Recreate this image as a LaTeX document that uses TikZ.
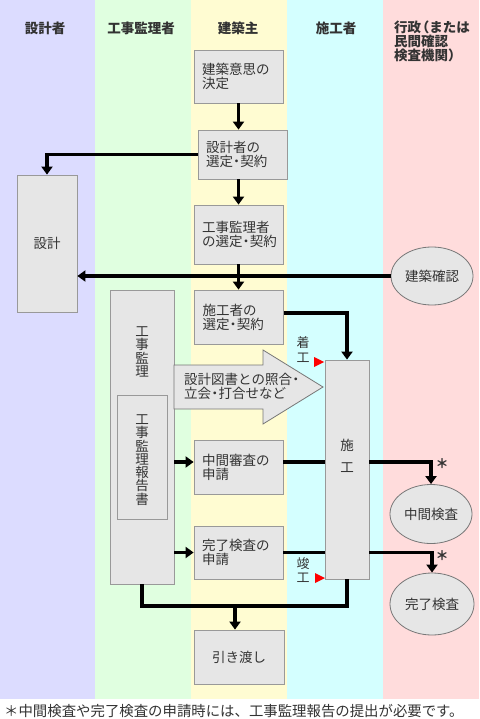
\documentclass[tikz,border=0pt]{standalone}
\usepackage{fontspec}
\setmainfont{Noto Sans CJK JP}
\newfontfamily\jpfull{Noto Sans CJK JP}
\usetikzlibrary{arrows.meta,shapes.geometric}
\definecolor{colA}{HTML}{DCDCFF}
\definecolor{colB}{HTML}{E0FFE0}
\definecolor{colC}{HTML}{FFFCD2}
\definecolor{colD}{HTML}{D4FFFF}
\definecolor{colE}{HTML}{FFDCDC}
\definecolor{bfill}{HTML}{E6E6E6}
\definecolor{bline}{HTML}{999999}
\definecolor{eline}{HTML}{777777}
\definecolor{txt}{HTML}{333333}
\newcommand\nkg{\makebox[0.55em]{・}}
\newcommand\lpar{\makebox[0.6em][r]{（}}
\newcommand\fsm{\fontsize{13.5}{14}\selectfont}
\newcommand\fsv{\fontsize{13.5}{13.3}\selectfont}
\tikzset{
  hdr/.style={font=\fsm\bfseries, text=txt},
  boxbase/.style={draw=bline, fill=bfill, line width=0.8pt, inner ysep=0pt, font=\fsm, text=txt},
  lbox/.style={boxbase, inner xsep=8pt, text width=73pt, align=left, minimum height=#1},
  ell/.style={ellipse, draw=eline, fill=bfill, line width=0.8pt, inner sep=0pt, font=\fsm, text=txt},
  conn/.style={line width=3.5pt, draw=black},
  arr/.style={conn, -{Triangle[width=11pt,length=8pt]}},
  lbl/.style={font=\fsm, text=txt, inner sep=0pt},
  redtri/.style={fill=red, draw=none}
}
\begin{document}
\begin{tikzpicture}[x=1pt,y=-1pt]
\useasboundingbox (0,0) rectangle (479,719);
\fill[white] (0,0) rectangle (479,719);
% swim lanes
\fill[colA] (0,0) rectangle (95,699);
\fill[colB] (95,0) rectangle (191,699);
\fill[colC] (191,0) rectangle (287,699);
\fill[colD] (287,0) rectangle (383,699);
\fill[colE] (383,0) rectangle (479,699);
% headers
\node[hdr] (h1) at (45,28) {設計者};
\node[hdr] (h2) at (141,28) {工事監理者};
\node[hdr] (h3) at (238,28) {建築主};
\node[hdr] (h4) at (336,28) {施工者};
\node[hdr, anchor=west, align=left, inner sep=0pt] (h5) at (394,41) {行政\lpar または\\民間確認\\検査機関）};
% owner boxes
\node[lbox=53pt] (b1) at (238.5,76.5) {建築意思の\\決定};
\node[lbox=49pt] (b2) at (242.5,154.5) {設計者の\\選定\nkg 契約};
\node[lbox=59pt] (b3) at (238.5,234.5) {工事監理者\\の選定\nkg 契約};
\node[lbox=54pt] (b4) at (239,317) {施工者の\\選定\nkg 契約};
\node[lbox=54pt] (b5) at (238.5,467) {中間審査の\\申請};
\node[lbox=53pt] (b6) at (238.5,552.5) {完了検査の\\申請};
\node[boxbase, minimum width=90pt, minimum height=54pt] (b7) at (239,657) {引き渡し};
% designer
\node[boxbase, minimum width=60pt, minimum height=137pt] (sekkei) at (47,243.5) {設計};
% supervisor
\node[boxbase, minimum width=64pt, minimum height=294pt] (kanri) at (142,437) {};
\node[lbl, font=\fsv, align=center] (kanriT) at (142,352) {工\\事\\監\\理};
\node[boxbase, minimum width=50pt, minimum height=124pt] (houkoku) at (142,457) {};
\node[lbl, font=\fsv, align=center] (houkokuT) at (142,460) {工\\事\\監\\理\\報\\告\\書};
% big arrow
\filldraw[fill=bfill, draw=eline, line width=0.8pt] (174,365) -- (263,365) -- (263,350) -- (323,387) -- (263,424) -- (263,409) -- (174,409) -- cycle;
\node[lbl, anchor=west, align=left] (shogo) at (184,386) {設計図書との照合\nkg\\立会\nkg 打合せなど};
% contractor
\node[boxbase, minimum width=44pt, minimum height=219pt] (sekou) at (347,469.5) {};
\node[lbl, font=\fontsize{13.5}{22}\selectfont, align=center] (sekouT) at (347,456) {施\\工};
% authority ellipses
\node[ell, minimum width=82pt, minimum height=58pt] (kakunin) at (432,276) {建築確認};
\node[ell, minimum width=82pt, minimum height=59pt] (chukan) at (431,514) {中間検査};
\node[ell, minimum width=84pt, minimum height=62pt] (kanryo) at (432,604) {完了検査};
% start / finish labels
\node[lbl, font=\fontsize{13}{15}\selectfont, align=center] (chakko) at (303,350) {着\\工};
\fill[red] (314,357) -- (324,362) -- (314,367) -- cycle;
\node[lbl, font=\fontsize{13}{14}\selectfont, align=center] (shunko) at (303,570) {竣\\工};
\fill[red] (315,573) -- (325,578) -- (315,583) -- cycle;
% asterisks
\node[lbl, font=\fontsize{13}{14}\selectfont\bfseries] (ast1) at (442,464) {＊};
\node[lbl, font=\fontsize{13}{14}\selectfont\bfseries] (ast2) at (442,556) {＊};
% connectors
\draw[arr] (b1.south) -- (b1.south |- b2.north);
\draw[arr] (b2.west) -| (sekkei.north);
\draw[arr] (b2.south -| b3.north) -- (b3.north);
\draw[arr] (b3.south) -- (b3.south |- b4.north);
\draw[arr] (kakunin.west) -- (sekkei.east |- kakunin.west);
\coordinate (p4) at ([yshift=4pt]b4.east);
\draw[arr] (p4) -| (sekou.north);
\coordinate (p5) at ([yshift=5pt]b5.west);
\coordinate (q5) at ([yshift=5pt]b5.east);
\draw[arr] (kanri.east |- p5) -- (p5);
\draw[conn] (q5) -- (sekou.west |- q5);
\draw[arr] (sekou.east |- q5) -| (chukan.north);
\draw[arr] (kanri.east |- b6.west) -- (b6.west);
\draw[conn] (b6.east) -- (sekou.west |- b6.east);
\draw[arr] (sekou.east |- b6.east) -| (kanryo.north);
\coordinate (j) at (235,606);
\draw[conn] (kanri.south) |- (j) -| (sekou.south);
\draw[arr] (j) -- (j |- b7.north);
% footnote
\node[lbl, anchor=west, font=\jpfull\fontsize{14.4}{15}\selectfont] (note) at (4,711) {＊中間検査や完了検査の申請時には、工事監理報告の提出が必要です。};
\end{tikzpicture}
\end{document}
